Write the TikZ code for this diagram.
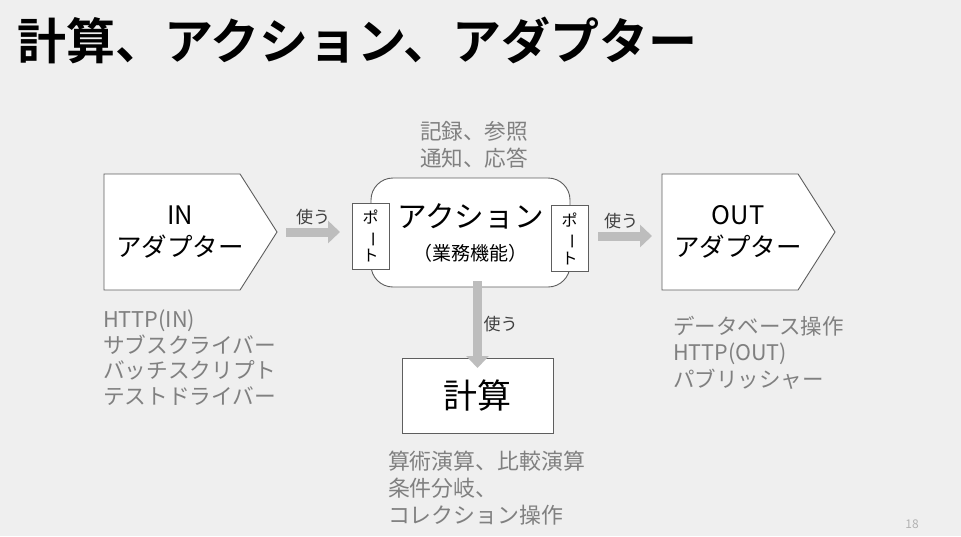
\documentclass[tikz,border=0pt]{standalone}
\usepackage{fontspec}
\setmainfont{Noto Sans CJK JP}
\newfontfamily\titlefont{Noto Sans CJK JP Bold}
\usetikzlibrary{shapes,arrows.meta,positioning,calc}
\definecolor{slidebg}{HTML}{EFEFEF}
\definecolor{boxline}{HTML}{5E5E5E}
\definecolor{usearrowcol}{HTML}{BDBDBD}
\definecolor{notegray}{HTML}{808080}

\begin{document}
\begin{tikzpicture} [x=1pt, y=-1pt]
    \tikzstyle{every node}=[inner sep=0pt, outer sep=0pt]
    \tikzstyle{box}=[
				% The border:
      				 draw=boxline, line width=0.9pt,
      				% The filling:
				fill=white, align=center
					]
    \tikzstyle{adapter}=[box, signal, signal to=east, signal pointer angle=115,
				minimum width=173pt, minimum height=116pt, anchor=west]
    \tikzstyle{adaptertext}=[xshift=8pt, align=center, font=\fontsize{25.5}{32}\selectfont]
    \tikzstyle{port}=[box, minimum width=37pt, minimum height=66pt,
				font=\fontsize{16}{19}\selectfont]
    \tikzstyle{note}=[align=left, text=notegray, font=\fontsize{21.7}{25.5}\selectfont]
    \tikzstyle{usearrow}=[draw=usearrowcol, line width=9pt,
				-{Triangle[length=12pt, width=22pt]}]
    \tikzstyle{uselabel}=[font=\fontsize{17}{17}\selectfont, text=black!75]

    \fill[slidebg] (0,0) rectangle (961,536);
    \useasboundingbox (0,0) rectangle (961,536);

    \node[anchor=west, font=\titlefont\fontsize{49}{49}\selectfont] (title) at (17,40)
        {計算、アクション、アダプター};

    % adapters and action
    \node[adapter, label={[adaptertext]center:IN\\アダプター}] (inad) at (104,232) {};
    \node[box, rounded corners=22pt, minimum width=199pt, minimum height=109pt,
          font=\fontsize{29.6}{32}\selectfont] (action) at (470.5,232.5)
        {アクション\\[1pt]{\fontsize{19}{20}\selectfont （業務機能）}};
    \node[port] (inport) at (370.5,236) {ポ\\\rotatebox[origin=c]{-90}{ー}\\ト};
    \node[port] (outport) at (569.5,238.5) {ポ\\\rotatebox[origin=c]{-90}{ー}\\ト};
    \node[adapter, label={[adaptertext]center:OUT\\アダプター}] (outad) at (662,232) {};
    \node[box, minimum width=151pt, minimum height=75pt,
          font=\fontsize{34}{34}\selectfont] (calc) at (477.5,395.5) {計算};

    % uses
    \draw[usearrow] ([xshift=9pt]inad.east) -- ([xshift=-12pt]inad.east -| inport.west)
        node[midway, above=7pt, uselabel] (use1) {使う};
    \draw[usearrow] ([xshift=10pt]outport.east |- 0,236) -- ([xshift=-10pt]outad.west |- 0,236)
        node[midway, above=7pt, xshift=-4pt, uselabel] (use2) {使う};
    \draw[usearrow] ([yshift=6pt]action.south -| calc.north) -- ([yshift=-10pt]calc.north)
        node[midway, right=6pt, uselabel] (use3) {使う};

    % notes
    \node[note, anchor=south, font=\fontsize{21.6}{27}\selectfont]
        (actnote) at (474,168) {記録、参照\\通知、応答};
    \node[note, anchor=north west] (innote) at (103,310)
        {HTTP(IN)\\サブスクライバー\\バッチスクリプト\\テストドライバー};
    \node[note, anchor=north west, font=\fontsize{21.5}{26.5}\selectfont] (outnote) at (673,316)
        {データベース操作\\HTTP(OUT)\\パブリッシャー};
    \node[note, anchor=north west, font=\fontsize{21.9}{27}\selectfont] (calcnote) at (388,451)
        {算術演算、比較演算\\条件分岐、\\コレクション操作};

    \node[text=black!30, font=\fontsize{12}{12}\selectfont] (pageno) at (912,524) {18};
\end{tikzpicture}
\end{document}
